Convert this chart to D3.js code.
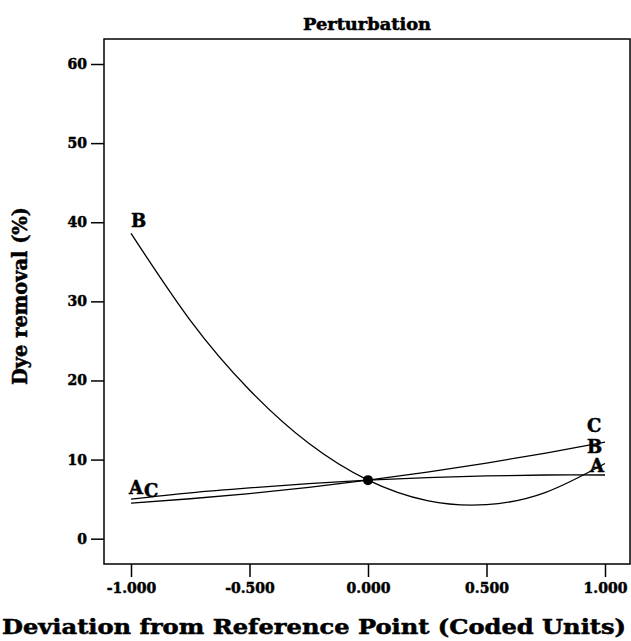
<!DOCTYPE html>
<html>
<head>
<meta charset="utf-8">
<script src="https://cdn.jsdelivr.net/npm/d3@7"></script>
<style>
body { margin: 0; background: #fff; }
text { font-family: "DejaVu Serif", serif; font-weight: bold; fill: #000; stroke: #000; stroke-width: 0.5px; }
</style>
</head>
<body>
<div id="chart"></div>
<script>
var width = 631;
var height = 641;

// coded deviation points
var devs = [-1, -0.75, -0.5, -0.25, 0, 0.25, 0.5, 0.75, 1];
var factors = ['A', 'B', 'C'];
var seriesA = [5.0, 5.8, 6.42, 6.96, 7.4, 7.73, 7.94, 8.05, 8.05];
var seriesB = [38.6, 27.6, 18.8, 12.06, 7.4, 4.81, 4.3, 5.86, 9.5];
var seriesC = [4.5, 5.05, 5.71, 6.5, 7.4, 8.42, 9.56, 10.82, 12.2];
var xTicks = [-1, -0.5, 0, 0.5, 1];
var yTicks = [0, 10, 20, 30, 40, 50, 60];
var refPoint = [0, 7.4];

var frame = { left: 104, top: 39, right: 630, bottom: 564 };

var canvas = d3.select('#chart')
	.append('svg')
	.attr('width', width)
	.attr('height', height);

function main()
{
	var x = d3.scaleLinear()
		.domain([-1, 1])
		.range([131, 605]);

	var y = d3.scaleLinear()
		.domain([0, 60])
		.range([538.7, 64]);

	// frame
	canvas.append('rect')
		.attr('x', frame.left)
		.attr('y', frame.top)
		.attr('width', frame.right - frame.left)
		.attr('height', frame.bottom - frame.top)
		.attr('fill', 'none')
		.attr('stroke', '#000')
		.attr('stroke-width', 1.5);

	var yAxis = canvas.append('g')
		.attr('transform', 'translate(' + frame.left + ',0)')
		.call(d3.axisLeft(y).tickValues(yTicks).tickSize(13).tickPadding(4).tickFormat(d3.format('d')));
	yAxis.select('.domain').remove();
	yAxis.selectAll('line').attr('stroke', '#000').attr('stroke-width', 1.5);
	yAxis.selectAll('text').style('font-size', '14px').attr('fill', '#000');

	var xAxis = canvas.append('g')
		.attr('transform', 'translate(0,' + frame.bottom + ')')
		.call(d3.axisBottom(x).tickValues(xTicks).tickSize(13).tickPadding(6).tickFormat(d3.format('.3f')));
	xAxis.select('.domain').remove();
	xAxis.selectAll('line').attr('stroke', '#000').attr('stroke-width', 1.5);
	xAxis.selectAll('text').style('font-size', '14px').attr('fill', '#000')
		.text((d) => d3.format('.3f')(d).replace('\u2212', '-'));

	var lines = [seriesA, seriesB, seriesC];
	var line = d3.line()
		.x((d, i) => x(devs[i]))
		.y((d) => y(d))
		.curve(d3.curveNatural);

	canvas.selectAll('.trace')
		.data(lines)
		.enter().append('path')
			.attr('class', 'trace')
			.attr('d', line)
			.attr('fill', 'none')
			.attr('stroke', '#000')
			.attr('stroke-width', 1.3);

	canvas.append('circle')
		.attr('cx', x(refPoint[0]))
		.attr('cy', y(refPoint[1]))
		.attr('r', 5)
		.attr('fill', '#000');

	// labels at both ends of each trace, nudged apart like the original
	var labelShift = {
		A: [[-2, -5], [-15, -3]],
		B: [[0, -6], [-18, -11]],
		C: [[13, -6], [-18, -10]]
	};
	factors.forEach((f, k) => {
		var s = lines[k];
		var ends = [[devs[0], s[0]], [devs[devs.length - 1], s[s.length - 1]]];
		ends.forEach((e, j) => {
			canvas.append('text')
				.attr('x', x(e[0]) + labelShift[f][j][0])
				.attr('y', y(e[1]) + labelShift[f][j][1])
				.style('font-size', '18px')
				.text(f);
		});
	});

	canvas.append('text')
		.attr('x', (frame.left + frame.right) / 2)
		.attr('y', 30)
		.attr('text-anchor', 'middle')
		.style('font-size', '16px')
		.attr('textLength', 128)
		.attr('lengthAdjust', 'spacingAndGlyphs')
		.text('Perturbation');

	canvas.append('text')
		.attr('x', 314)
		.attr('y', 634)
		.attr('text-anchor', 'middle')
		.style('font-size', '20px')
		.attr('textLength', 624)
		.attr('lengthAdjust', 'spacingAndGlyphs')
		.text('Deviation from Reference Point (Coded Units)');

	canvas.append('text')
		.attr('transform', 'translate(27,296) rotate(-90)')
		.attr('text-anchor', 'middle')
		.style('font-size', '20px')
		.attr('textLength', 178)
		.attr('lengthAdjust', 'spacingAndGlyphs')
		.text('Dye removal (%)');
}

main();
</script>
</body>
</html>
